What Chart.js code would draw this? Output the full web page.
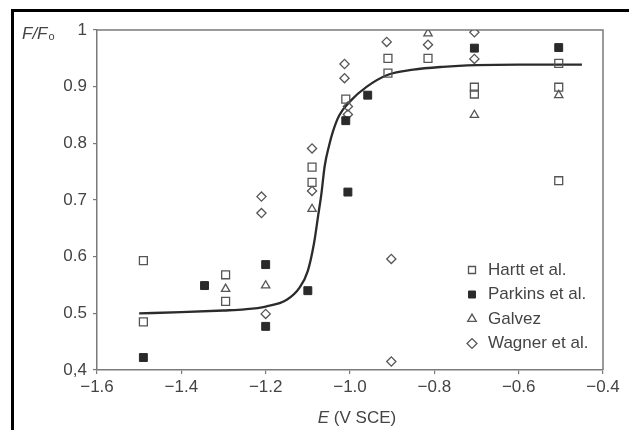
<!DOCTYPE html>
<html>
<head>
<meta charset="utf-8">
<script src="https://cdn.jsdelivr.net/npm/chart.js@4.4.1/dist/chart.umd.min.js"></script>
<style>
  html, body { margin: 0; padding: 0; background: #fff; }
  #wrap { position: relative; width: 629px; height: 430px; overflow: hidden; }
  #frame { position: absolute; left: 11px; top: 9px; width: 700px; height: 500px;
           border-left: 3px solid #000; border-top: 3px solid #000; pointer-events: none; }
  canvas { display: block; }
</style>
</head>
<body>
<div id="wrap">
  <canvas id="c" width="629" height="430"></canvas>
  <div id="frame"></div>
</div>
<script>
// ---- data ----
const seriesNames = ['Hartt et al.', 'Parkins et al.', 'Galvez', 'Wagner et al.'];

const harttX = [-1.49, -1.49, -1.295, -1.295, -1.09, -1.09, -1.01, -0.91, -0.91, -0.815, -0.705, -0.705, -0.505, -0.505, -0.505];
const harttY = [0.593, 0.485, 0.568, 0.521, 0.758, 0.731, 0.878, 0.950, 0.924, 0.950, 0.899, 0.887, 0.941, 0.899, 0.734];

const parkinsX = [-1.49, -1.345, -1.2, -1.2, -1.1, -1.005, -1.01, -0.958, -0.705, -0.505];
const parkinsY = [0.422, 0.549, 0.586, 0.477, 0.540, 0.714, 0.840, 0.885, 0.968, 0.969];

const galvezX = [-1.295, -1.2, -1.09, -0.815, -0.705, -0.505];
const galvezY = [0.543, 0.549, 0.684, 0.994, 0.850, 0.885];

const wagnerX = [-1.21, -1.21, -1.2, -1.09, -1.09, -1.013, -1.013, -1.005, -1.005, -0.913, -0.902, -0.902, -0.815, -0.705, -0.705];
const wagnerY = [0.706, 0.677, 0.499, 0.791, 0.716, 0.940, 0.915, 0.865, 0.851, 0.979, 0.596, 0.415, 0.974, 0.996, 0.949];

// fitted curve, points
const curveX = [-1.5, -1.4, -1.3, -1.25, -1.2, -1.15, -1.12, -1.1, -1.085, -1.075, -1.068, -1.06, -1.05, -1.04, -1.025, -1.0, -0.96, -0.91, -0.85, -0.78, -0.7, -0.6, -0.45];
const curveY = [0.500, 0.502, 0.505, 0.507, 0.512, 0.524, 0.545, 0.575, 0.625, 0.675, 0.710, 0.760, 0.795, 0.822, 0.850, 0.874, 0.900, 0.921, 0.930, 0.935, 0.938, 0.939, 0.939];

const xTickLabels = ['\u22121.6', '\u22121.4', '\u22121.2', '\u22121.0', '\u22120.8', '\u22120.6', '\u22120.4'];
const yTickLabels = ['0,4', '0.5', '0.6', '0.7', '0.8', '0.9', '1'];
const xAxisTitleItalic = 'E';
const xAxisTitleRest = ' (V SCE)';
const yAxisTitleMain = 'F/F';
const yAxisTitleSub = 'o';

// ---- build ----
const pts = (xs, ys) => xs.map((x, i) => ({ x: x, y: ys[i] }));
const FONT = '"Liberation Sans", Arial, Helvetica, sans-serif';
const TXT = '#444';
const AX = '#7a7a7a';

const decor = {
  id: 'decor',
  afterLayout(chart) {
    const lg = chart.legend, a = chart.chartArea;
    if (!lg) return;
    lg.left = a.left + 360;
    lg.top = a.top + 224;
    lg.right = a.right;
    lg.bottom = a.bottom;
    lg.width = lg.right - lg.left;
    lg.height = lg.bottom - lg.top;
  },
  beforeDatasetsDraw(chart) {
    const ctx = chart.ctx, a = chart.chartArea;
    ctx.save();
    ctx.strokeStyle = AX;
    ctx.lineWidth = 1.5;
    ctx.beginPath();
    ctx.moveTo(a.left, a.top);
    ctx.lineTo(a.right, a.top);
    ctx.lineTo(a.right, a.bottom);
    ctx.stroke();
    ctx.restore();
  },
  afterDraw(chart) {
    const ctx = chart.ctx, a = chart.chartArea;
    ctx.save();
    ctx.fillStyle = TXT;
    ctx.textBaseline = 'alphabetic';
    ctx.textAlign = 'left';
    // y title
    ctx.font = 'italic 17px ' + FONT;
    ctx.fillText(yAxisTitleMain, 22, 39);
    const w1 = ctx.measureText(yAxisTitleMain).width;
    ctx.font = '11px ' + FONT;
    ctx.fillText(yAxisTitleSub, 22 + w1 + 1, 40);
    // x title
    ctx.font = 'italic 17px ' + FONT;
    const wE = ctx.measureText(xAxisTitleItalic).width;
    ctx.font = '17px ' + FONT;
    const wR = ctx.measureText(xAxisTitleRest).width;
    const cx = (a.left + a.right) / 2 + 7;
    const x0 = cx - (wE + wR) / 2;
    ctx.font = 'italic 17px ' + FONT;
    ctx.fillText(xAxisTitleItalic, x0, 423);
    ctx.font = '17px ' + FONT;
    ctx.fillText(xAxisTitleRest, x0 + wE, 423);
    ctx.restore();
  }
};

const openStyle = { backgroundColor: 'rgba(0,0,0,0)', borderColor: '#555', borderWidth: 1.3 };

new Chart(document.getElementById('c'), {
  type: 'scatter',
  data: {
    datasets: [
      Object.assign({ label: seriesNames[0], data: pts(harttX, harttY), pointStyle: 'rect', pointRadius: 5.6 }, openStyle),
      { label: seriesNames[1], data: pts(parkinsX, parkinsY), pointStyle: 'rect', pointRadius: 5.6,
        backgroundColor: '#2a2a2a', borderColor: '#2a2a2a', borderWidth: 1 },
      Object.assign({ label: seriesNames[2], data: pts(galvezX, galvezY), pointStyle: 'triangle', pointRadius: 4.8 }, openStyle),
      Object.assign({ label: seriesNames[3], data: pts(wagnerX, wagnerY), pointStyle: 'rectRot', pointRadius: 4.6 }, openStyle),
      { label: 'fit', data: pts(curveX, curveY), showLine: true, pointRadius: 0, borderColor: '#2b2b2b',
        borderWidth: 2.3, cubicInterpolationMode: 'monotone', fill: false }
    ]
  },
  options: {
    responsive: false,
    animation: false,
    events: [],
    layout: { padding: { left: 0, top: 30, right: 26, bottom: 0 } },
    plugins: {
      tooltip: { enabled: false },
      title: { display: false },
      legend: {
        display: true,
        position: 'chartArea',
        align: 'start',
        labels: {
          usePointStyle: true,
          boxWidth: 15,
          boxHeight: 7,
          padding: 7.5,
          color: TXT,
          font: { family: FONT, size: 17 },
          filter: (item) => item.datasetIndex < 4
        }
      }
    },
    scales: {
      x: {
        type: 'linear', min: -1.6, max: -0.4,
        afterFit: (s) => { s.height = 60; },
        border: { display: true, color: AX, width: 1.5 },
        grid: { drawOnChartArea: false, drawTicks: true, tickLength: 4, color: AX, lineWidth: 1.2 },
        ticks: { stepSize: 0.2, padding: 3, color: TXT, font: { family: FONT, size: 17 }, maxRotation: 0,
                 callback: (v, i) => xTickLabels[i] }
      },
      y: {
        type: 'linear', min: 0.4, max: 1,
        afterFit: (s) => { s.width = 97; },
        border: { display: true, color: AX, width: 1.5 },
        grid: { drawOnChartArea: false, drawTicks: true, tickLength: 4, color: AX, lineWidth: 1.2 },
        ticks: { stepSize: 0.1, padding: 6, color: TXT, font: { family: FONT, size: 17 },
                 callback: (v, i) => yTickLabels[i] }
      }
    }
  },
  plugins: [decor]
});
</script>
</body>
</html>
